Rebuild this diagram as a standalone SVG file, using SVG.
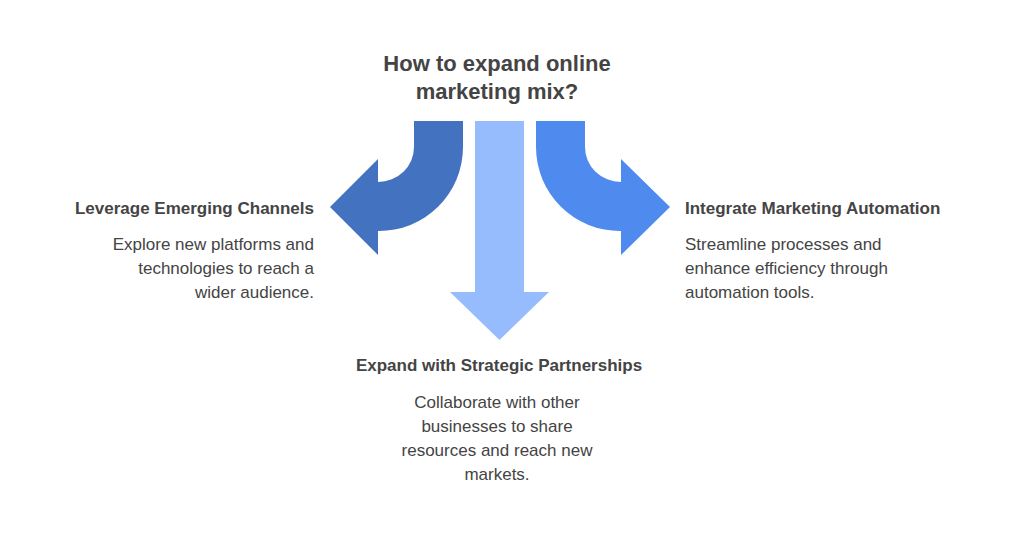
<svg xmlns="http://www.w3.org/2000/svg" width="1024" height="536" viewBox="0 0 1024 536">
<style>
text{font-family:"Liberation Sans",Arial,sans-serif;fill:#444}
.h{font-weight:bold;font-size:17px}
.t{font-size:17px}
</style>
<rect width="1024" height="536" fill="#fff"/>
<text class="h" x="497" y="71" text-anchor="middle" style="font-size:22px">How to expand online</text>
<text class="h" x="497" y="99" text-anchor="middle" style="font-size:22px">marketing mix?</text>
<g id="connectors">
<path id="left-arrow" d="M414,121 H463 V147 A84,84 0 0 1 378,231 V255 L330,207 L378,159 V182 A36,35 0 0 0 414,147 Z" fill="#4372c0"/>
<path id="mid-arrow" d="M475,121 H524 V292 H549 L499.5,340 L450,292 H475 Z" fill="#97bcfd"/>
<path id="right-arrow" d="M585,121 H536 V147 A84,84 0 0 0 621,231 V255 L670,207 L621,159 V182 A36,35 0 0 1 585,147 Z" fill="#4f8bee"/>
</g>
<g id="node-left">
<text class="h" x="314" y="214" text-anchor="end">Leverage Emerging Channels</text>
<text class="t" x="314" y="250" text-anchor="end">Explore new platforms and</text>
<text class="t" x="314" y="274" text-anchor="end">technologies to reach a</text>
<text class="t" x="314" y="298" text-anchor="end">wider audience.</text>
</g>
<g id="node-right">
<text class="h" x="685" y="214">Integrate Marketing Automation</text>
<text class="t" x="685" y="250">Streamline processes and</text>
<text class="t" x="685" y="274">enhance efficiency through</text>
<text class="t" x="685" y="298">automation tools.</text>
</g>
<g id="node-bottom">
<text class="h" x="499" y="371" text-anchor="middle">Expand with Strategic Partnerships</text>
<text class="t" x="497" y="408" text-anchor="middle">Collaborate with other</text>
<text class="t" x="497" y="432" text-anchor="middle">businesses to share</text>
<text class="t" x="497" y="456" text-anchor="middle">resources and reach new</text>
<text class="t" x="497" y="480" text-anchor="middle">markets.</text>
</g>
</svg>
